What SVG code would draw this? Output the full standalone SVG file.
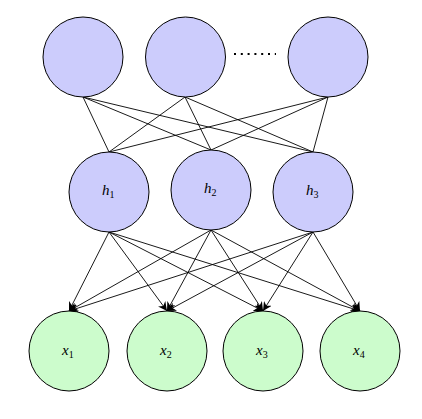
<svg xmlns="http://www.w3.org/2000/svg" width="422" height="419" viewBox="0 0 422 419">
<style>
.top{fill:#ccccfc;stroke:#000;stroke-width:1}
.hid{fill:#ccccfc;stroke:#000;stroke-width:1}
.out{fill:#ccfccc;stroke:#000;stroke-width:1}
.lbl{font-family:"Liberation Serif","DejaVu Serif",serif;font-style:italic;font-size:15px;fill:#000}
.sub{font-size:10px;font-style:normal}
.ln{stroke:#000;stroke-width:0.9;fill:none}
</style>
<defs>
<marker id="ah" viewBox="0 0 10 10" refX="10" refY="5" markerWidth="9" markerHeight="9" markerUnits="userSpaceOnUse" orient="auto">
<path d="M0,0 L10,5 L0,10 L3,5 z" fill="#000"/>
</marker>
</defs>
<rect width="422" height="419" fill="#fff"/>
<g id="connectors">
<line class="ln" x1="83" y1="97" x2="109" y2="152"/>
<line class="ln" x1="83" y1="97" x2="211" y2="150"/>
<line class="ln" x1="83" y1="97" x2="313" y2="152"/>
<line class="ln" x1="185" y1="97" x2="109" y2="152"/>
<line class="ln" x1="185" y1="97" x2="211" y2="150"/>
<line class="ln" x1="185" y1="97" x2="313" y2="152"/>
<line class="ln" x1="328" y1="97" x2="109" y2="152"/>
<line class="ln" x1="328" y1="97" x2="211" y2="150"/>
<line class="ln" x1="328" y1="97" x2="313" y2="152"/>
<line class="ln" x1="109" y1="232" x2="69" y2="311" marker-end="url(#ah)"/>
<line class="ln" x1="109" y1="232" x2="167" y2="311" marker-end="url(#ah)"/>
<line class="ln" x1="109" y1="232" x2="263" y2="311" marker-end="url(#ah)"/>
<line class="ln" x1="109" y1="232" x2="360" y2="311" marker-end="url(#ah)"/>
<line class="ln" x1="211" y1="230" x2="69" y2="311" marker-end="url(#ah)"/>
<line class="ln" x1="211" y1="230" x2="167" y2="311" marker-end="url(#ah)"/>
<line class="ln" x1="211" y1="230" x2="263" y2="311" marker-end="url(#ah)"/>
<line class="ln" x1="211" y1="230" x2="360" y2="311" marker-end="url(#ah)"/>
<line class="ln" x1="313" y1="232" x2="69" y2="311" marker-end="url(#ah)"/>
<line class="ln" x1="313" y1="232" x2="167" y2="311" marker-end="url(#ah)"/>
<line class="ln" x1="313" y1="232" x2="263" y2="311" marker-end="url(#ah)"/>
<line class="ln" x1="313" y1="232" x2="360" y2="311" marker-end="url(#ah)"/>
</g>
<g id="t1"><circle class="top" cx="83" cy="57" r="40"/></g>
<g id="t2"><circle class="top" cx="185.5" cy="57" r="40"/></g>
<g id="dots"><line x1="234" y1="54" x2="276" y2="54" stroke="#000" stroke-width="2" stroke-dasharray="2,4.8"/></g>
<g id="t3"><circle class="top" cx="328" cy="57" r="40"/></g>
<g id="h1"><circle class="hid" cx="109" cy="192" r="40"/><text class="lbl" x="102" y="195">h<tspan class="sub" dy="3">1</tspan></text></g>
<g id="h2"><circle class="hid" cx="211" cy="190" r="40"/><text class="lbl" x="204" y="193">h<tspan class="sub" dy="3">2</tspan></text></g>
<g id="h3"><circle class="hid" cx="313" cy="192" r="40"/><text class="lbl" x="306" y="195">h<tspan class="sub" dy="3">3</tspan></text></g>
<g id="x1"><circle class="out" cx="69" cy="351" r="40"/><text class="lbl" x="62" y="355">x<tspan class="sub" dy="3">1</tspan></text></g>
<g id="x2"><circle class="out" cx="167" cy="351" r="40"/><text class="lbl" x="160" y="355">x<tspan class="sub" dy="3">2</tspan></text></g>
<g id="x3"><circle class="out" cx="263" cy="351" r="40"/><text class="lbl" x="256" y="355">x<tspan class="sub" dy="3">3</tspan></text></g>
<g id="x4"><circle class="out" cx="360" cy="351" r="40"/><text class="lbl" x="353" y="355">x<tspan class="sub" dy="3">4</tspan></text></g>
</svg>
